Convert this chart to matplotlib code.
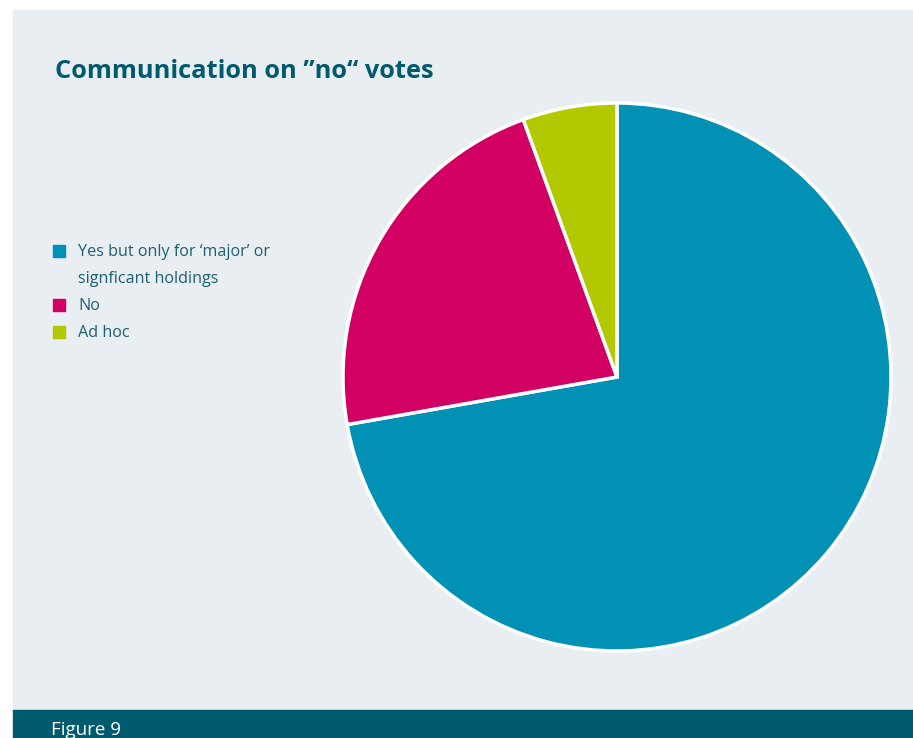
import matplotlib.pyplot as plt
from matplotlib.patches import Rectangle

# survey answers, share of respondents
labels = ["Yes but only for \u2018major\u2019 or\nsignficant holdings", "No", "Ad hoc"]
counts = [13, 4, 1]
colors = ["#0091B5", "#D20062", "#B2C900"]

W, H = 913, 738
panel_color = "#E9EEF3"
teal = "#005A6E"
text_color = "#1E5F72"

fig = plt.figure(figsize=(W / 100, H / 100), dpi=100)
fig.patch.set_facecolor("white")

def fx(x):
    return x / W

def fy(y):
    return 1 - y / H

# background panel and footer band
fig.patches.append(Rectangle((fx(13), fy(710)), 1 - fx(13), fy(10) - fy(710),
                             transform=fig.transFigure, color=panel_color, zorder=-2))
fig.patches.append(Rectangle((fx(13), 0), 1 - fx(13), fy(710),
                             transform=fig.transFigure, color=teal, zorder=-2))

fig.text(fx(55), fy(72), "Communication on \u201dno\u201c votes", fontsize=18.3,
         fontweight="bold", color=teal, family="Open Sans", va="center")
fig.text(fx(51), fy(721), "Figure 9", fontsize=13.5, color="white",
         family="Open Sans", va="top")

# pie
cx, cy, r = 617, 377, 274
ax = fig.add_axes([fx(cx - r), fy(cy + r), (2 * r) / W, (2 * r) / H], zorder=1)
ax.pie(counts, colors=colors, startangle=90, counterclock=False,
       wedgeprops=dict(edgecolor="white", linewidth=2.5))
ax.set_xlim(-1.0, 1.0)
ax.set_ylim(-1.0, 1.0)
ax.set_aspect("equal")
ax.axis("off")

# legend drawn by hand
rows = [252, 306, 333]
for lab, col, y in zip(labels, colors, rows):
    fig.patches.append(Rectangle((fx(53), fy(y + 5)), fx(12), fy(0) - fy(12),
                                 transform=fig.transFigure, color=col, zorder=2))
    for i, line in enumerate(lab.split("\n")):
        fig.text(fx(78), fy(y + 27 * i), line, fontsize=11.6, color=text_color,
                 family="Open Sans", va="center")

fig.savefig("out.png", dpi=100, facecolor=fig.get_facecolor())
